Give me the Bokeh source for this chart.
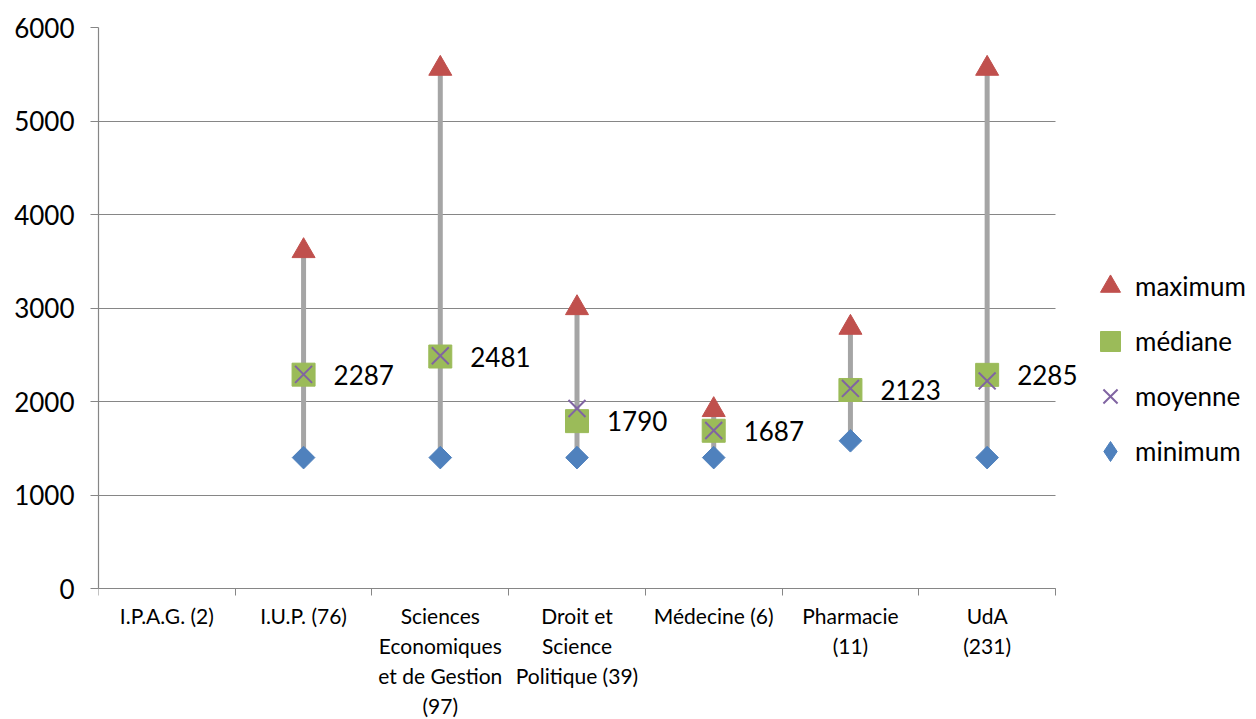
import math
from bokeh.plotting import figure
from bokeh.models import (ColumnDataSource, Range1d, FixedTicker, Legend, LegendItem, LabelSet)
from bokeh.embed import file_html
from bokeh.resources import INLINE
from bokeh.core.properties import value

categories = ["I.P.A.G. (2)", "I.U.P. (76)", "Sciences\nEconomiques\net de Gestion\n(97)",
              "Droit et\nScience\nPolitique (39)", "Médecine (6)", "Pharmacie\n(11)", "UdA\n(231)"]
maximum = [None, 3610, 5560, 3000, 1910, 2790, 5560]
mediane = [None, 2287, 2481, 1790, 1687, 2123, 2285]
moyenne = [None, 2290, 2490, 1925, 1690, 2140, 2220]
minimum = [None, 1400, 1400, 1400, 1400, 1580, 1400]
y_ticks = [0, 1000, 2000, 3000, 4000, 5000, 6000]

FONT = "Lato"
GRID = "#868686"

# layout (pixels)
W, H = 1256, 719
LEFT, TOP, BOTTOM, RIGHT = 98, 27, 0, 0
AXIS_W, AXIS_H = 957, 561        # size of the value/category area
FRAME_W = W - LEFT - RIGHT
FRAME_H = H - TOP - BOTTOM
n = len(categories)
x_end = n * FRAME_W / AXIS_W     # extra room on the right for legend / labels
y_top = y_ticks[-1]
y_start = y_top - (y_top - y_ticks[0]) * FRAME_H / AXIS_H   # room below 0 for labels
LEG_BOTTOM = 476                 # legend bottom edge (px from top)

idx = [i for i, v in enumerate(mediane) if v is not None]
src = ColumnDataSource(dict(
    x=[i + 0.5 for i in idx],
    mx=[maximum[i] for i in idx],
    md=[mediane[i] for i in idx],
    mo=[moyenne[i] for i in idx],
    mn=[minimum[i] for i in idx],
    lbl=[str(mediane[i]) for i in idx],
))

p = figure(width=W, height=H, output_backend="svg", toolbar_location=None,
           x_range=Range1d(0, x_end), y_range=Range1d(y_start, y_top),
           min_border_left=LEFT, min_border_right=RIGHT, min_border_top=TOP,
           min_border_bottom=BOTTOM)
p.outline_line_color = None
p.background_fill_color = "white"
p.xgrid.grid_line_color = None
p.ygrid.grid_line_color = GRID
p.ygrid.grid_line_width = 1.2
p.ygrid.cross_bounds = (0, n)

# y axis
p.yaxis.ticker = FixedTicker(ticks=y_ticks)
p.yaxis.bounds = (y_ticks[0], y_ticks[-1])
p.yaxis.axis_line_color = GRID
p.yaxis.axis_line_width = 1.2
p.yaxis.major_tick_line_color = GRID
p.yaxis.major_tick_in = 0
p.yaxis.major_tick_out = 8
p.yaxis.minor_tick_line_color = None
p.yaxis.major_label_text_font = FONT
p.yaxis.major_label_text_font_size = "26px"
p.yaxis.major_label_text_color = "black"
p.yaxis.major_label_standoff = 16

# x axis (sits on the value 0)
centers = [i + 0.5 for i in range(n)]
bounds = [float(i) for i in range(n + 1)]
p.xaxis.fixed_location = y_ticks[0]
p.xaxis.ticker = FixedTicker(ticks=centers, minor_ticks=bounds)
p.xaxis.major_label_overrides = {c: lab for c, lab in zip(centers, categories)}
p.xaxis.bounds = (0, n)
p.xaxis.axis_line_color = GRID
p.xaxis.axis_line_width = 1.2
p.xaxis.major_tick_line_color = None
p.xaxis.minor_tick_line_color = GRID
p.xaxis.minor_tick_in = 0
p.xaxis.minor_tick_out = 7
p.xaxis.major_label_text_font = FONT
p.xaxis.major_label_text_font_size = "21px"
p.xaxis.major_label_text_color = "black"
p.xaxis.major_label_standoff = 7

p.segment(x0="x", y0="mn", x1="x", y1="mx", source=src, line_width=5, line_color="#A5A5A5")
# diamond used as the legend swatch; hidden under the rotated square in the plot
r_min_leg = p.scatter("x", "mn", source=src, marker="diamond", size=20,
                      fill_color="#4F81BD", line_color="#4F81BD")
r_min = p.scatter("x", "mn", source=src, marker="square", size=16, angle=math.pi / 4,
                  fill_color="#4F81BD", line_color="#4F81BD")
r_max = p.scatter("x", "mx", source=src, marker="triangle", size=23,
                  fill_color="#C0504D", line_color="#C0504D")
r_med = p.scatter("x", "md", source=src, marker="square", size=23,
                  fill_color="#9BBB59", line_color="#9BBB59")
r_moy = p.scatter("x", "mo", source=src, marker="x", size=24,
                  line_color="#8064A2", line_width=2)

labels = LabelSet(x="x", y="md", text="lbl", source=src, x_offset=30,
                  text_baseline="middle", text_align="left", text_font=value(FONT),
                  text_font_size=value("26px"), text_color=value("black"))
p.add_layout(labels)

legend = Legend(items=[
    LegendItem(label="maximum", renderers=[r_max]),
    LegendItem(label="médiane", renderers=[r_med]),
    LegendItem(label="moyenne", renderers=[r_moy]),
    LegendItem(label="minimum", renderers=[r_min_leg]),
], location=(987, H - BOTTOM - LEG_BOTTOM))
legend.glyph_width = 50
legend.glyph_height = 50
legend.label_height = 50
legend.spacing = 5
legend.label_standoff = -10
legend.padding = 0
legend.margin = 0
legend.border_line_color = None
legend.background_fill_alpha = 0
legend.label_text_font = FONT
legend.label_text_font_size = "26px"
legend.label_text_color = "black"
legend.label_text_baseline = "middle"
p.add_layout(legend, "center")

open("out.html", "w").write(file_html(p, INLINE))
